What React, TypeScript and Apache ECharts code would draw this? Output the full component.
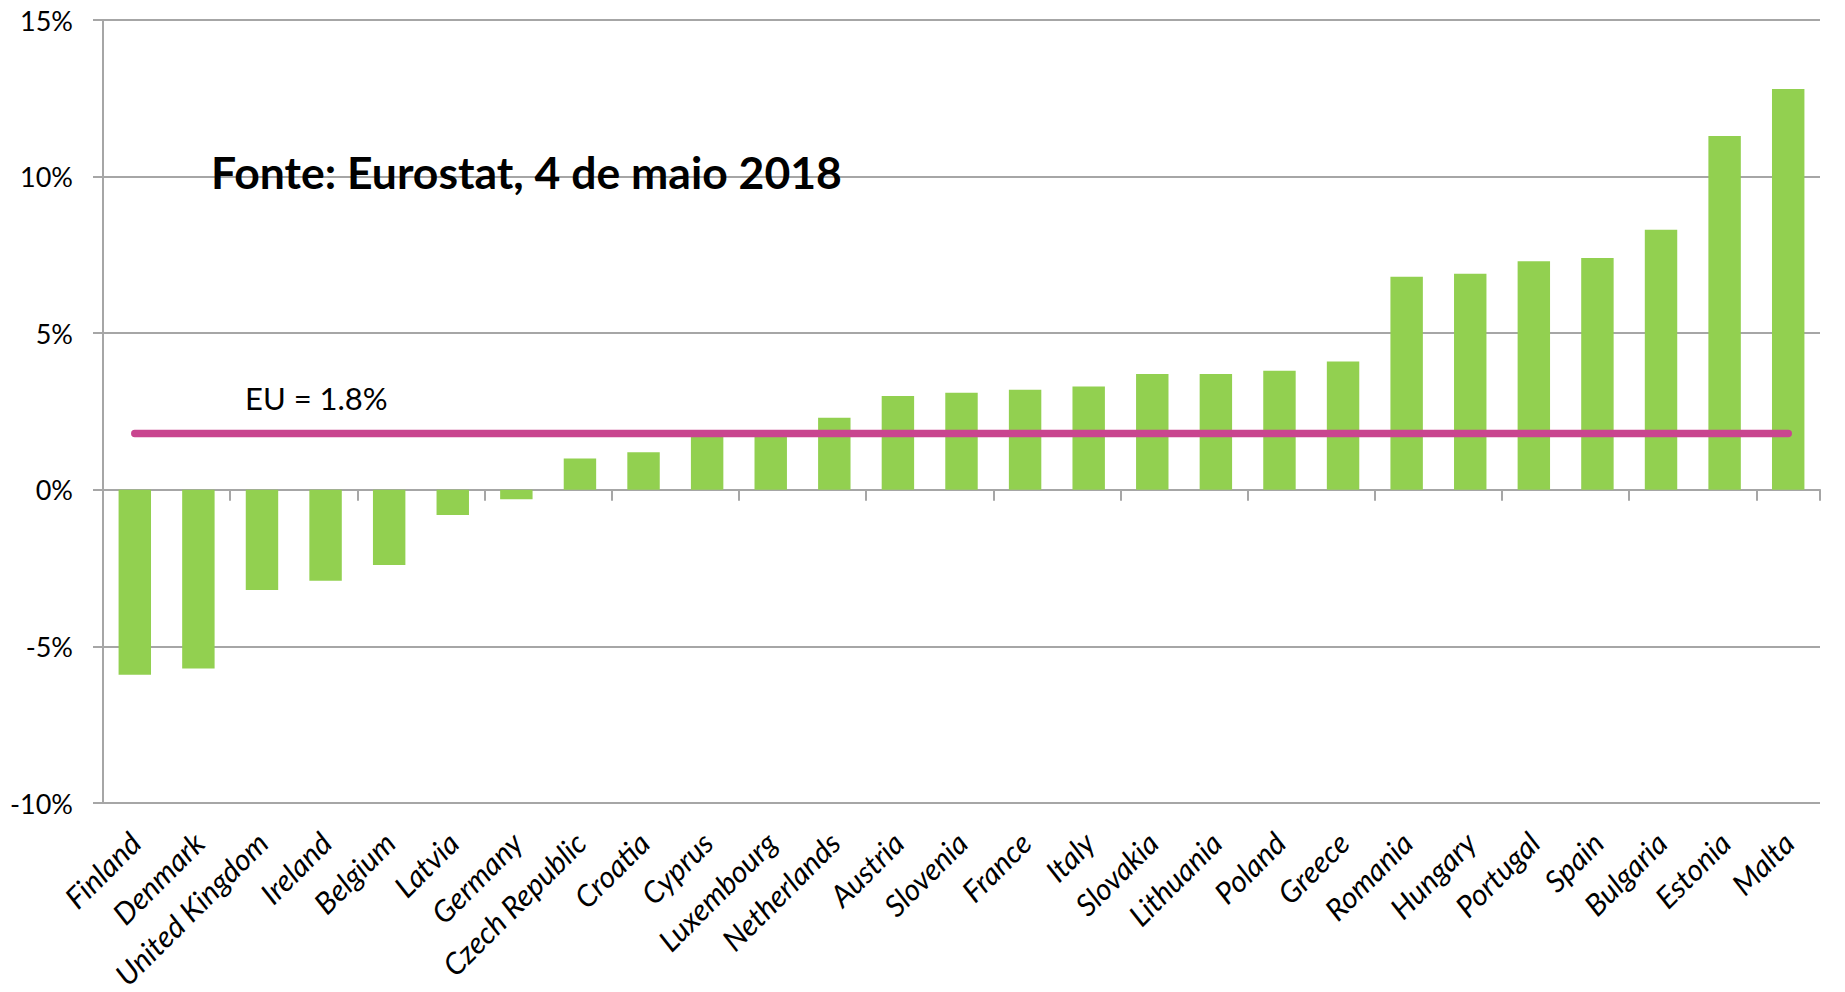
import React, { useEffect, useRef } from "react";
import * as echarts from "echarts";

const countries = [
  "Finland", "Denmark", "United Kingdom", "Ireland", "Belgium", "Latvia", "Germany",
  "Czech Republic", "Croatia", "Cyprus", "Luxembourg", "Netherlands", "Austria",
  "Slovenia", "France", "Italy", "Slovakia", "Lithuania", "Poland", "Greece",
  "Romania", "Hungary", "Portugal", "Spain", "Bulgaria", "Estonia", "Malta",
];

const changes = [
  -5.9, -5.7, -3.2, -2.9, -2.4, -0.8, -0.3,
  1.0, 1.2, 1.7, 1.7, 2.3, 3.0,
  3.1, 3.2, 3.3, 3.7, 3.7, 3.8, 4.1,
  6.8, 6.9, 7.3, 7.4, 8.3, 11.3, 12.8,
];

const euAverage = 1.8;
const euLine = countries.map(() => euAverage);

const yTicks = { min: -10, max: 15, interval: 5 };

const titleText = "Fonte: Eurostat, 4 de maio 2018";
const euLabel = "EU = 1.8%";

export default function App() {
  const ref = useRef<HTMLDivElement>(null);

  useEffect(() => {
    if (!ref.current) return;
    const chart = echarts.init(ref.current, undefined, { renderer: "svg" });
    const font = "Lato, 'Noto Sans', sans-serif";
    const gridColor = "#A6A6A6";
    chart.setOption({
      animation: false,
      backgroundColor: "#ffffff",
      grid: { left: 103, right: 25, top: 20, bottom: 188, containLabel: false },
      xAxis: [
        {
          type: "category",
          data: countries,
          position: "bottom",
          axisLine: { onZero: true, lineStyle: { color: gridColor, width: 2 } },
          axisTick: { show: true, length: 11, lineStyle: { color: gridColor, width: 2 } },
          axisLabel: { show: false },
          splitLine: { show: false },
        },
        {
          type: "category",
          data: countries,
          position: "bottom",
          axisLine: { show: false, onZero: false },
          axisTick: { show: false },
          splitLine: { show: false },
          axisLabel: {
            show: true,
            interval: 0,
            rotate: 45,
            margin: 34,
            color: "#000000",
            fontFamily: font,
            fontStyle: "italic",
            fontSize: 30,
          },
        },
      ],
      yAxis: {
        type: "value",
        min: yTicks.min,
        max: yTicks.max,
        interval: yTicks.interval,
        axisLine: { show: true, lineStyle: { color: gridColor, width: 2 } },
        axisTick: { show: true, length: 10, lineStyle: { color: gridColor, width: 2 } },
        splitLine: { show: true, lineStyle: { color: gridColor, width: 2 } },
        axisLabel: {
          formatter: "{value}%",
          margin: 30,
          color: "#000000",
          fontFamily: font,
          fontSize: 27,
        },
      },
      series: [
        {
          type: "bar",
          data: changes,
          xAxisIndex: 0,
          barWidth: "51%",
          itemStyle: { color: "#92D050" },
        },
        {
          type: "line",
          data: euLine,
          xAxisIndex: 0,
          showSymbol: false,
          symbol: "none",
          lineStyle: { color: "#C9458F", width: 7.5, cap: "round" },
          z: 5,
        },
      ],
      graphic: [
        {
          type: "text",
          style: {
            text: titleText,
            x: 211,
            y: 171,
            fill: "#000000",
            fontFamily: font,
            fontWeight: "bold",
            fontSize: 44.5,
            align: "left",
            verticalAlign: "middle",
          },
          z: 10,
        },
        {
          type: "text",
          style: {
            text: euLabel,
            x: 245,
            y: 398,
            fill: "#000000",
            fontFamily: font,
            fontSize: 31,
            align: "left",
            verticalAlign: "middle",
          },
          z: 10,
        },
      ],
    });
    return () => chart.dispose();
  }, []);

  return (
    <div
      ref={ref}
      style={{ position: "absolute", left: 0, top: 0, width: 1845, height: 992, background: "#fff" }}
    />
  );
}
